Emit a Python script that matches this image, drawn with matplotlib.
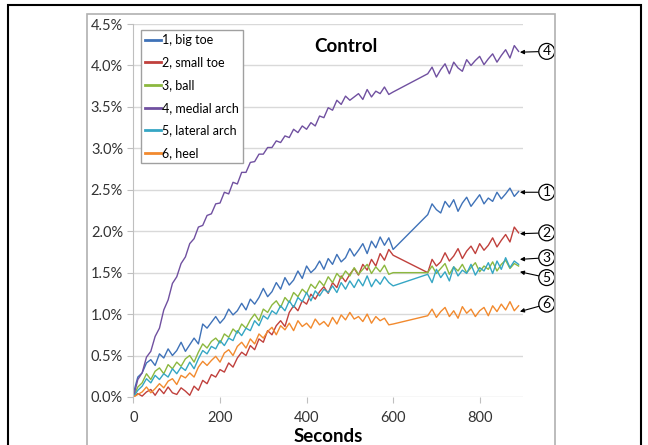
import numpy as np
import matplotlib
matplotlib.use("Agg")
import matplotlib.pyplot as plt
from matplotlib.patches import Rectangle

plt.rcParams['font.family'] = ['Lato', 'DejaVu Sans']

# sampling times (s): first block, then second block after the pause
t_first = np.arange(0, 601, 10)
t_second = np.arange(680, 891, 10)

# strain in percent at each sample
big_toe_a = [0.05, 0.24, 0.29, 0.41, 0.45, 0.38, 0.52, 0.47, 0.58, 0.50,
             0.56, 0.66, 0.55, 0.63, 0.71, 0.64, 0.88, 0.83, 0.90, 0.97,
             0.89, 0.95, 1.06, 0.99, 1.04, 1.13, 1.05, 1.18, 1.12, 1.20,
             1.31, 1.21, 1.27, 1.38, 1.30, 1.44, 1.35, 1.41, 1.52, 1.43,
             1.58, 1.50, 1.55, 1.64, 1.54, 1.67, 1.60, 1.72, 1.63, 1.68,
             1.79, 1.70, 1.77, 1.85, 1.73, 1.88, 1.80, 1.93, 1.83, 1.92, 1.78]
big_toe_b = [2.20, 2.33, 2.26, 2.22, 2.36, 2.29, 2.38, 2.24, 2.34, 2.41, 2.30,
             2.37, 2.44, 2.33, 2.40, 2.36, 2.47, 2.39, 2.45, 2.52, 2.42, 2.48]

small_toe_a = [0.00, 0.04, 0.01, 0.06, 0.09, 0.02, 0.10, 0.04, 0.12, 0.05,
               0.03, 0.11, 0.07, 0.02, 0.13, 0.08, 0.20, 0.16, 0.27, 0.24,
               0.33, 0.30, 0.41, 0.36, 0.47, 0.54, 0.50, 0.62, 0.57, 0.70,
               0.66, 0.80, 0.75, 0.86, 0.92, 0.85, 1.02, 1.10, 1.04, 1.16,
               1.12, 1.24, 1.18, 1.27, 1.33, 1.25, 1.38, 1.32, 1.46, 1.39,
               1.48, 1.55, 1.47, 1.60, 1.53, 1.66, 1.58, 1.73, 1.65, 1.78, 1.71]
small_toe_b = [1.50, 1.66, 1.58, 1.63, 1.74, 1.64, 1.70, 1.79, 1.67, 1.76, 1.82,
               1.73, 1.85, 1.77, 1.83, 1.92, 1.81, 1.89, 1.96, 1.87, 2.05, 1.98]

ball_a = [0.00, 0.12, 0.17, 0.28, 0.21, 0.31, 0.35, 0.28, 0.39, 0.34,
          0.42, 0.37, 0.46, 0.50, 0.42, 0.54, 0.64, 0.59, 0.67, 0.71,
          0.65, 0.76, 0.72, 0.82, 0.77, 0.88, 0.83, 0.93, 1.00, 0.92,
          1.06, 1.02, 1.11, 1.16, 1.08, 1.20, 1.14, 1.26, 1.21, 1.30,
          1.25, 1.36, 1.31, 1.40, 1.34, 1.45, 1.38, 1.49, 1.43, 1.52,
          1.46, 1.56, 1.48, 1.54, 1.60, 1.49, 1.57, 1.51, 1.59, 1.48, 1.50]
ball_b = [1.50, 1.58, 1.49, 1.55, 1.61, 1.48, 1.57, 1.52, 1.60, 1.50, 1.56,
          1.62, 1.51, 1.58, 1.54, 1.63, 1.52, 1.60, 1.65, 1.55, 1.61, 1.58]

medial_a = [0.00, 0.21, 0.29, 0.48, 0.55, 0.73, 0.83, 1.05, 1.17, 1.37,
            1.45, 1.61, 1.69, 1.85, 1.91, 2.05, 2.07, 2.19, 2.21, 2.33,
            2.34, 2.47, 2.45, 2.59, 2.57, 2.71, 2.71, 2.83, 2.84, 2.93,
            2.93, 3.01, 3.01, 3.09, 3.07, 3.15, 3.13, 3.23, 3.19, 3.27,
            3.23, 3.31, 3.27, 3.39, 3.37, 3.49, 3.46, 3.58, 3.53, 3.63,
            3.58, 3.62, 3.66, 3.59, 3.71, 3.62, 3.69, 3.66, 3.74, 3.65, 3.68]
medial_b = [3.90, 3.98, 3.86, 3.95, 4.02, 3.90, 4.04, 3.97, 3.93, 4.07, 4.00,
            4.06, 4.11, 4.01, 4.08, 4.14, 4.04, 4.12, 4.19, 4.09, 4.24, 4.17]

lateral_a = [0.00, 0.08, 0.13, 0.22, 0.17, 0.26, 0.21, 0.28, 0.24, 0.34,
             0.28, 0.36, 0.32, 0.42, 0.34, 0.46, 0.56, 0.52, 0.61, 0.58,
             0.68, 0.62, 0.71, 0.68, 0.80, 0.74, 0.83, 0.80, 0.92, 0.86,
             0.98, 0.94, 1.04, 1.00, 1.10, 1.04, 1.16, 1.08, 1.20, 1.15,
             1.26, 1.16, 1.28, 1.22, 1.30, 1.26, 1.34, 1.26, 1.38, 1.30,
             1.40, 1.32, 1.42, 1.34, 1.46, 1.33, 1.42, 1.36, 1.45, 1.38, 1.34]
lateral_b = [1.48, 1.38, 1.54, 1.44, 1.51, 1.40, 1.57, 1.46, 1.53, 1.49, 1.60,
             1.47, 1.56, 1.52, 1.62, 1.49, 1.64, 1.54, 1.68, 1.56, 1.64, 1.60]

heel_a = [0.00, 0.03, 0.06, 0.12, 0.05, 0.10, 0.16, 0.11, 0.19, 0.22,
          0.15, 0.26, 0.23, 0.29, 0.24, 0.36, 0.43, 0.38, 0.44, 0.49,
          0.42, 0.53, 0.57, 0.50, 0.61, 0.66, 0.59, 0.70, 0.64, 0.76,
          0.71, 0.79, 0.84, 0.75, 0.86, 0.81, 0.89, 0.80, 0.92, 0.85,
          0.89, 0.83, 0.94, 0.87, 0.91, 0.85, 0.96, 0.88, 0.99, 0.93,
          1.02, 0.94, 0.97, 0.91, 1.00, 0.89, 0.97, 0.92, 0.95, 0.87, 0.88]
heel_b = [0.98, 1.06, 0.96, 1.03, 1.08, 0.97, 1.04, 0.95, 1.09, 1.01, 1.06,
          0.97, 1.04, 1.08, 0.98, 1.10, 1.03, 1.12, 1.05, 1.15, 1.04, 1.10]

labels = ["1, big toe", "2, small toe", "3, ball", "4, medial arch",
          "5, lateral arch", "6, heel"]
colors = ["#3f72b8", "#c0403c", "#8cb83f", "#7050a0", "#35a6c4", "#f28a2e"]
series = [(big_toe_a, big_toe_b), (small_toe_a, small_toe_b), (ball_a, ball_b),
          (medial_a, medial_b), (lateral_a, lateral_b), (heel_a, heel_b)]

# circled markers on the right: number, arrow tip value, label value
callouts = [("4", 4.16, 4.17), ("1", 2.47, 2.47), ("2", 1.97, 1.98),
            ("3", 1.66, 1.68), ("5", 1.51, 1.44), ("6", 1.03, 1.12)]

fig = plt.figure(figsize=(6.48, 4.45), dpi=100)
fig.patches.append(Rectangle((0.0123, -0.05), 0.977, 1.039, transform=fig.transFigure,
                             fill=False, edgecolor="black", lw=1.5))
fig.patches.append(Rectangle((0.134, -0.05), 0.722, 1.019, transform=fig.transFigure,
                             fill=False, edgecolor="#b0b0b0", lw=1.2))

ax = fig.add_axes([0.206, 0.108, 0.601, 0.838])
t_all = np.concatenate([t_first, t_second])
for (a, b), lab, col in zip(series, labels, colors):
    ax.plot(t_all, np.concatenate([a, b]), color=col, lw=1.0, label=lab)

ax.set_xlim(0, 900)
ax.set_ylim(0, 4.5)
ax.set_xticks([0, 200, 400, 600, 800])
ax.set_yticks(np.arange(0, 4.51, 0.5))
ax.set_yticklabels([f"{v:.1f}%" for v in np.arange(0, 4.51, 0.5)])
ax.grid(axis="y", color="#d9d9d9", lw=1.0)
ax.set_axisbelow(True)
for side in ["top", "right", "bottom"]:
    ax.spines[side].set_visible(False)
ax.spines["left"].set_color("#bfbfbf")
ax.tick_params(colors="#bfbfbf", labelcolor="#333333", labelsize=10.5, length=4)
ax.tick_params(axis="x", pad=6)

ax.set_xlabel("Seconds", fontsize=13.5, fontweight="bold", labelpad=2)
ax.text(0.546, 0.94, "Control", transform=ax.transAxes, fontsize=13.5,
        fontweight="bold", ha="center", va="center")

leg = ax.legend(loc="upper left", bbox_to_anchor=(0.003, 1.0), fontsize=9,
                handlelength=1.3, handletextpad=0.1, labelspacing=0.85,
                borderpad=0.3, fancybox=False, framealpha=1)
leg.get_frame().set_edgecolor("#a0a0a0")
leg.get_frame().set_linewidth(1.0)
for line in leg.get_lines():
    line.set_linewidth(2.0)

for num, tip, pos in callouts:
    ax.annotate(num, xy=(893, tip), xytext=(955, pos), fontsize=10,
                ha="center", va="center", annotation_clip=False,
                bbox=dict(boxstyle="circle,pad=0.14", fc="white", ec="black", lw=0.9),
                arrowprops=dict(arrowstyle="-|>", color="black", lw=0.8,
                                mutation_scale=6, shrinkA=0, shrinkB=0))

fig.savefig("out.png", dpi=100)
